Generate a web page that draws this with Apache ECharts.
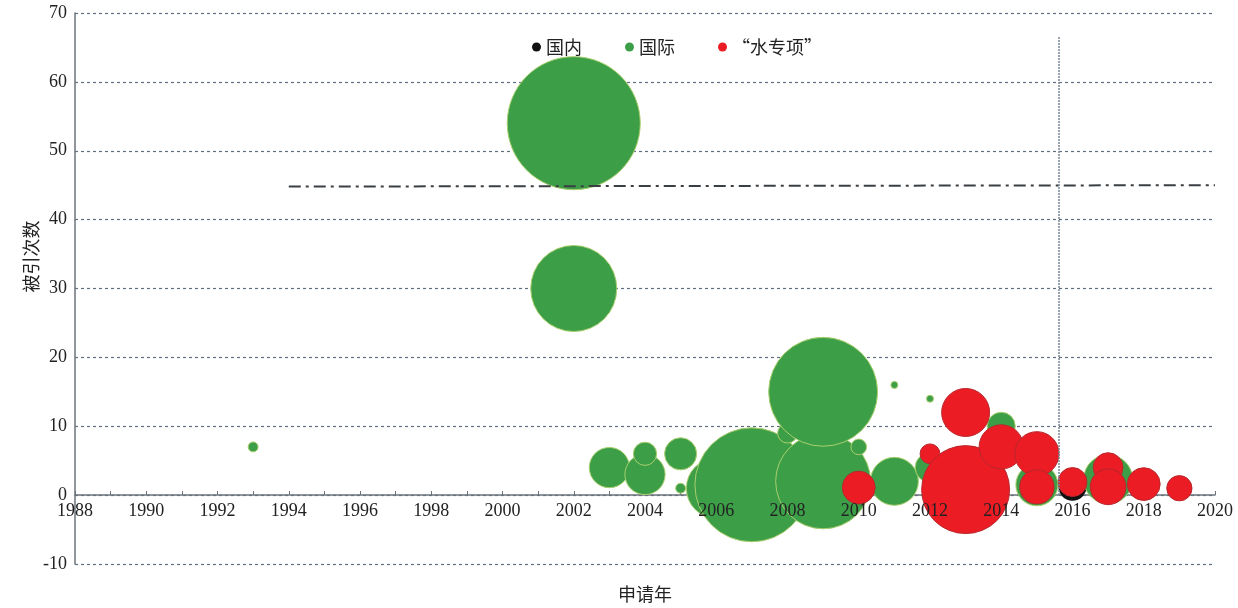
<!DOCTYPE html>
<html>
<head>
<meta charset="utf-8">
<script src="https://cdn.jsdelivr.net/npm/echarts@6/dist/echarts.min.js"></script>
<style>html,body{margin:0;padding:0;background:#fff;}#main{width:1238px;height:608px;}</style>
</head>
<body>
<div id="main"></div>
<script>
// [申请年, 被引次数, 专利数量]
const domestic = [
  [2016, 1.2, 16]
];
const international = [
  [1993, 7, 2],
  [2002, 54, 361],
  [2002, 30, 151],
  [2003, 4, 33],
  [2004, 3, 33],
  [2004, 6, 11],
  [2005, 6, 21],
  [2005, 1, 2],
  [2006, 1, 73],
  [2007, 1.5, 265],
  [2008, 9, 8],
  [2009, 2, 184],
  [2009, 15, 242],
  [2010, 7, 5],
  [2011, 2, 47],
  [2011, 16, 1],
  [2012, 14, 1],
  [2012, 4, 18],
  [2014, 10, 16],
  [2015, 1.5, 36],
  [2017, 2.3, 49]
];
const waterProject = [
  [2010, 1.1, 22],
  [2012, 6, 8],
  [2013, 12, 47],
  [2013, 0.8, 158],
  [2014, 7, 40],
  [2015, 6, 40],
  [2015, 1.2, 24],
  [2016, 1.9, 17],
  [2017, 4, 18],
  [2017, 1.2, 26],
  [2018, 1.6, 22],
  [2019, 1, 13]
];
const seriesNames = ['国内', '国际', '“水专项”'];
const thresholdLine = [[1994, 44.8], [2020, 45]];
const cutoffLine = [[2015.6, 66.5], [2015.6, 0]];

const font = 'Liberation Serif, "Times New Roman", "Noto Sans CJK SC", serif';
const cjkFont = '"Noto Sans CJK SC", serif';
const sizeFn = function (v) { return 7 * Math.sqrt(v[2]); };
const yearFmt = function (v) { return String(v); };

const chart = echarts.init(document.getElementById('main'));
chart.setOption({
  animation: false,
  backgroundColor: '#fff',
  legend: {
    data: seriesNames,
    left: 527, top: 33,
    itemWidth: 9, itemHeight: 9, itemGap: 43,
    icon: 'circle',
    itemStyle: { borderWidth: 0 },
    textStyle: { fontFamily: cjkFont, fontSize: 18, color: '#222' }
  },
  grid: { left: 75, right: 23, top: 13, bottom: 44, outerBoundsMode: 'none', containLabel: false },
  xAxis: [
    {
      type: 'value', min: 1988, max: 2020, interval: 2,
      position: 'bottom', offset: -69, z: 0,
      axisLine: { onZero: false, lineStyle: { color: '#6b737b', width: 1.5 } },
      axisTick: { show: true, inside: true, length: 4, lineStyle: { color: '#6b737b' } },
      minorTick: { show: true, splitNumber: 2, length: 4, lineStyle: { color: '#6b737b' } },
      axisLabel: { show: false },
      splitLine: { show: false }
    },
    {
      type: 'value', min: 1988, max: 2020, interval: 2,
      position: 'bottom', offset: -69, z: 10,
      name: '申请年', nameLocation: 'middle', nameGap: 90,
      nameTextStyle: { fontFamily: cjkFont, fontSize: 18, color: '#222' },
      axisLine: { show: false, onZero: false },
      axisTick: { show: false },
      axisLabel: { fontFamily: font, fontSize: 18, color: '#222', margin: 7, formatter: yearFmt },
      splitLine: { show: false }
    }
  ],
  yAxis: {
    type: 'value', min: -10, max: 70, interval: 10,
    name: '被引次数', nameLocation: 'middle', nameGap: 35, nameMoveOverlap: false,
    nameTextStyle: { fontFamily: cjkFont, fontSize: 18, color: '#222', padding: [0, 0, 0, 64] },
    axisLine: { show: true, onZero: false, lineStyle: { color: '#6b737b', width: 1.5 } },
    axisTick: { show: false },
    axisLabel: { fontFamily: font, fontSize: 18, color: '#222', margin: 8, formatter: yearFmt },
    splitLine: { show: true, lineStyle: { color: '#5f6f80', type: [3, 3], width: 1.2 } }
  },
  series: [
    {
      name: seriesNames[0], type: 'scatter', data: domestic, symbolSize: sizeFn,
      itemStyle: { color: '#111', opacity: 1 }
    },
    {
      name: seriesNames[1], type: 'scatter', data: international, symbolSize: sizeFn,
      itemStyle: { color: '#3d9e48', borderColor: '#a9cf6e', borderWidth: 1, opacity: 1 },
      markLine: {
        silent: true, symbol: 'none', label: { show: false },
        data: [
          [{ coord: thresholdLine[0] }, { coord: thresholdLine[1] }],
          [{ coord: cutoffLine[0], lineStyle: { type: [2, 1], color: '#7a8794', width: 1.5 } }, { coord: cutoffLine[1] }]
        ],
        lineStyle: { type: [12, 5, 3, 5], color: '#3a3f44', width: 2 }
      }
    },
    {
      name: seriesNames[2], type: 'scatter', data: waterProject, symbolSize: sizeFn,
      itemStyle: { color: '#ec1c24', borderColor: '#b8272d', borderWidth: 1, opacity: 1 }
    }
  ]
});
</script>
</body>
</html>
